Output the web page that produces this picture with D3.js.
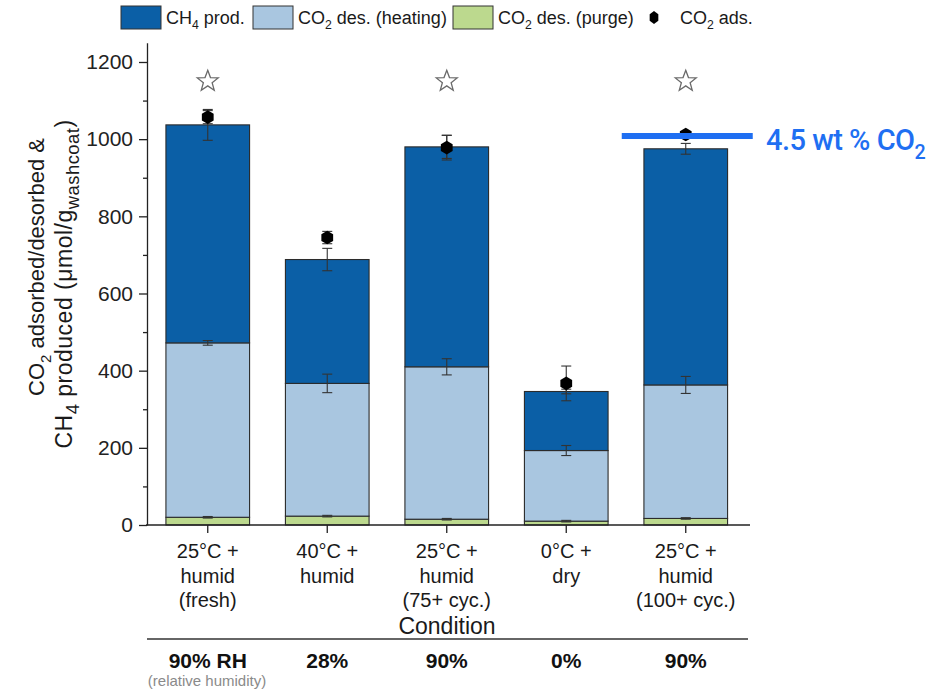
<!DOCTYPE html>
<html><head><meta charset="utf-8">
<script src="https://cdn.jsdelivr.net/npm/d3@7"></script>
<style>body{margin:0;background:#fff}svg{display:block}text{font-family:"Liberation Sans",Arial,sans-serif}</style>
</head><body><svg id="c" width="926" height="692"></svg>
<script>
// ---------------- data ----------------
const categories = ["25°C + humid (fresh)", "40°C + humid", "25°C + humid (75+ cyc.)", "0°C + dry", "25°C + humid (100+ cyc.)"];
const categoryLines = [["25°C +","humid","(fresh)"],["40°C +","humid"],["25°C +","humid","(75+ cyc.)"],["0°C +","dry"],["25°C +","humid","(100+ cyc.)"]];
const purge   = [20, 23, 15, 10, 17];
const heating = [452, 344, 395, 183, 346];
const ch4     = [565, 321, 570, 153, 612];
const purgeErr   = [2, 2, 2, 2, 2];
const heatingErr = [6, 24, 21, 13, 22];
const totalErr   = [40, 29, 30, 6, 14];
const co2Ads     = [1057, 745, 978, 367, 1012];
const co2AdsErr  = [17, 16, 32, 45, 5];
const starred    = [true, false, true, false, true];
const humidity   = ["90% RH", "28%", "90%", "0%", "90%"];
const yTicks = [0, 200, 400, 600, 800, 1000, 1200];
const yMinor = [100, 300, 500, 700, 900, 1100];
const starValue = 1150;
const co2LineValue = 1008;      // 4.5 wt % CO2 reference
const co2LineIndex = 4;

const colors = {ch4:"#0b5fa6", heating:"#a9c6e0", purge:"#bcd98e"};

// ---------------- scales ----------------
const svg = d3.select("#c");
const x = d3.scaleBand().domain(categories).range([148, 745.5]).paddingInner(0.3).paddingOuter(0.15);
const y = d3.scaleLinear().domain([0, 1250]).range([525, 42.7]);
const bw = x.bandwidth();
const cx = i => x(categories[i]) + bw / 2;

function rich(sel, parts, size, subRatio) {
  const sr = subRatio || 0.68;
  const sh = size * 0.3;
  let down = false;
  parts.forEach(([s, sub]) => {
    const t = sel.append("tspan").text(s);
    if (sub) { t.attr("font-size", size * sr).attr("dy", down ? 0 : sh); down = true; }
    else { if (down) t.attr("dy", -sh); down = false; t.attr("font-size", size); }
  });
  return sel;
}

// ---------------- bars ----------------
const stackData = categories.map((c, i) => ({c, purge: purge[i], heating: heating[i], ch4: ch4[i]}));
const stack = d3.stack().keys(["purge", "heating", "ch4"])(stackData);
const g = svg.append("g");
stack.forEach(layer => {
  g.selectAll(null).data(layer).enter().append("rect")
    .attr("x", d => x(d.data.c)).attr("width", bw)
    .attr("y", d => y(d[1])).attr("height", d => y(d[0]) - y(d[1]))
    .attr("fill", colors[layer.key]).attr("stroke", "#2b2b2b").attr("stroke-width", 1.1);
});

// error bars
function errBar(i, v, e, col) {
  const xc = cx(i), w = 5;
  g.append("line").attr("x1", xc).attr("x2", xc).attr("y1", y(v - e)).attr("y2", y(v + e)).attr("stroke", col).attr("stroke-width", 1.1);
  [v - e, v + e].forEach(vv => g.append("line").attr("x1", xc - w).attr("x2", xc + w).attr("y1", y(vv)).attr("y2", y(vv)).attr("stroke", col).attr("stroke-width", 1.1));
}
categories.forEach((c, i) => {
  errBar(i, purge[i], purgeErr[i], "#333");
  errBar(i, purge[i] + heating[i], heatingErr[i], "#333");
  errBar(i, purge[i] + heating[i] + ch4[i], totalErr[i], "#333");
  errBar(i, co2Ads[i], co2AdsErr[i], "#333");
});

// hexagon marker
function hexPath(r, sy) {
  const k2 = sy || 1;
  const pts = d3.range(6).map(k => { const a = Math.PI / 3 * k - Math.PI / 2; return [r * Math.cos(a), r * k2 * Math.sin(a)]; });
  return "M" + pts.map(p => p.join(",")).join("L") + "Z";
}
g.selectAll(null).data(co2Ads).enter().append("path")
  .attr("d", hexPath(6.8)).attr("transform", (d, i) => `translate(${cx(i)},${y(d)})`).attr("fill", "#000");

// stars
function starPath(R, r) {
  const pts = d3.range(10).map(k => { const a = Math.PI / 5 * k - Math.PI / 2; const rr = k % 2 ? r : R; return [rr * Math.cos(a), rr * Math.sin(a)]; });
  return "M" + pts.map(p => p.join(",")).join("L") + "Z";
}
starred.forEach((s, i) => {
  if (s) svg.append("path").attr("d", starPath(11, 4.6)).attr("transform", `translate(${cx(i)},${y(starValue)})`)
    .attr("fill", "#fff").attr("stroke", "#6a6a6a").attr("stroke-width", 1.3);
});

// ---------------- axes ----------------
const yAxis = svg.append("g").attr("transform", "translate(147,0)")
  .call(d3.axisLeft(y).tickValues(yTicks).tickFormat(d3.format("d")).tickSize(8).tickSizeOuter(0).tickPadding(6));
yAxis.selectAll("text").attr("font-size", 21).attr("fill", "#222").style("font-family", "Liberation Sans, Arial, sans-serif");
yAxis.selectAll("line,path").attr("stroke", "#222").attr("stroke-width", 1.3);
const yAxisMinor = svg.append("g").attr("transform", "translate(147,0)")
  .call(d3.axisLeft(y).tickValues(yMinor).tickSize(4).tickFormat(""));
yAxisMinor.select(".domain").remove();
yAxisMinor.selectAll("line").attr("stroke", "#222").attr("stroke-width", 1.3);

const xAxis = svg.append("g").attr("transform", "translate(0,525)")
  .call(d3.axisBottom(x).tickSize(8).tickSizeOuter(0).tickFormat(""));
xAxis.select(".domain").remove();
xAxis.selectAll("line").attr("stroke", "#222").attr("stroke-width", 1.3);
svg.append("line").attr("x1", 146).attr("x2", 750).attr("y1", 525).attr("y2", 525).attr("stroke", "#222").attr("stroke-width", 1.5);

// x category labels
categoryLines.forEach((lines, i) => {
  lines.forEach((l, k) => {
    svg.append("text").attr("x", cx(i)).attr("y", 558 + k * 24.5).attr("text-anchor", "middle")
      .attr("font-size", 20).attr("fill", "#1a1a1a").text(l);
  });
});
svg.append("text").attr("x", 447).attr("y", 634).attr("text-anchor", "middle").attr("font-size", 23).attr("fill", "#1a1a1a").text("Condition");

// y label
rich(svg.append("text").attr("transform", "translate(44,267) rotate(-90)").attr("text-anchor", "middle").attr("fill", "#1a1a1a"),
  [["CO", false], ["2", true], [" adsorbed/desorbed &", false]], 22);
rich(svg.append("text").attr("transform", "translate(72,284) rotate(-90)").attr("text-anchor", "middle").attr("fill", "#1a1a1a").attr("letter-spacing", 0.5),
  [["CH", false], ["4", true], [" produced (μmol/g", false], ["washcoat", true], [")", false]], 23, 0.8);

// bottom rule and humidity
svg.append("line").attr("x1", 147).attr("x2", 748).attr("y1", 639).attr("y2", 639).attr("stroke", "#333").attr("stroke-width", 1.6);
humidity.forEach((h, i) => {
  svg.append("text").attr("x", cx(i)).attr("y", 668).attr("text-anchor", "middle").attr("font-size", 21)
    .attr("font-weight", "bold").attr("fill", "#111").text(h);
});
svg.append("text").attr("x", 207).attr("y", 686).attr("text-anchor", "middle").attr("font-size", 15).attr("fill", "#8a8a8a").text("(relative humidity)");

// 4.5 wt% line
svg.append("line").attr("x1", cx(co2LineIndex) - 64).attr("x2", cx(co2LineIndex) + 67)
  .attr("y1", y(co2LineValue)).attr("y2", y(co2LineValue)).attr("stroke", "#1f6ff2").attr("stroke-width", 6);
rich(svg.append("text").attr("x", 766).attr("y", 150).attr("fill", "#1f6ff2").attr("letter-spacing", -0.5)
  .style("font-family", "Roboto, 'Liberation Sans', sans-serif").attr("font-weight", 500),
  [["4.5 wt % CO", false], ["2", true]], 29);

// ---------------- legend ----------------
const legend = [
  {type: "rect", color: colors.ch4, x: 121, parts: [["CH", false], ["4", true], [" prod.", false]]},
  {type: "rect", color: colors.heating, x: 253, parts: [["CO", false], ["2", true], [" des. (heating)", false]]},
  {type: "rect", color: colors.purge, x: 453, parts: [["CO", false], ["2", true], [" des. (purge)", false]]},
  {type: "hex", x: 654, parts: [["CO", false], ["2", true], [" ads.", false]]}
];
legend.forEach(l => {
  if (l.type === "rect") {
    svg.append("rect").attr("x", l.x).attr("y", 6).attr("width", 40).attr("height", 23).attr("fill", l.color).attr("stroke", "#333").attr("stroke-width", 1);
    rich(svg.append("text").attr("x", l.x + 45).attr("y", 24).attr("fill", "#1a1a1a"), l.parts, 18);
  } else {
    svg.append("path").attr("d", hexPath(5, 1.3)).attr("transform", `translate(${l.x},17.5)`).attr("fill", "#000");
    rich(svg.append("text").attr("x", 680).attr("y", 24).attr("fill", "#1a1a1a"), l.parts, 18);
  }
});
</script></body></html>
